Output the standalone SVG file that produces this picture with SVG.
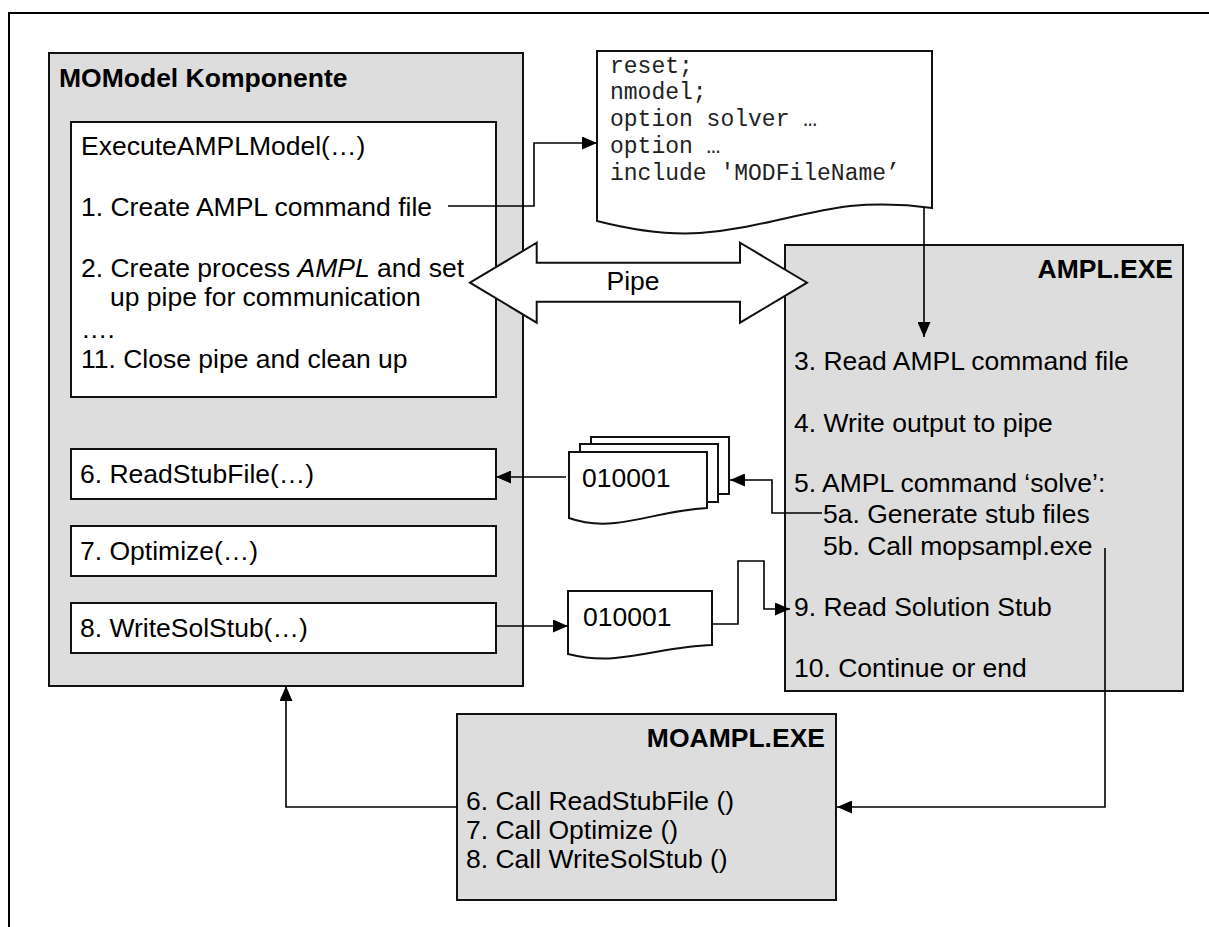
<svg xmlns="http://www.w3.org/2000/svg" width="1209" height="927" viewBox="0 0 1209 927">
<style>
.frame{fill:none;stroke:#000;stroke-width:2}
.gbox{fill:#dddddd;stroke:#111;stroke-width:2}
.wbox{fill:#fff;stroke:#111;stroke-width:2}
.t{font-family:"Liberation Sans",Arial,sans-serif;font-size:26.5px;fill:#000}
.b{font-family:"Liberation Sans",Arial,sans-serif;font-size:26.5px;font-weight:bold;fill:#000}
.m{font-family:"Liberation Mono","Courier New",monospace;font-size:23px;fill:#222}
.c{fill:none;stroke:#000;stroke-width:1.6}
</style>
<defs>
<marker id="ah" markerWidth="15" markerHeight="13" refX="15" refY="6.5" orient="auto" markerUnits="userSpaceOnUse">
<path d="M0,0 L15,6.5 L0,13 Z" fill="#000"/>
</marker>
</defs>
<rect width="1209" height="927" fill="#fff"/>
<path class="frame" d="M9,927 V13 H1209"/>

<g id="momodel">
<rect class="gbox" x="49" y="53" width="474" height="633"/>
<text class="b" x="59" y="87">MOModel Komponente</text>
<g id="execute">
<rect class="wbox" x="71" y="122" width="425" height="275"/>
<text class="t" x="81" y="155">ExecuteAMPLModel(…)</text>
<text class="t" x="81" y="216">1. Create AMPL command file</text>
<text class="t" x="81" y="277">2. Create process <tspan font-style="italic">AMPL</tspan> and set</text>
<text class="t" x="110" y="306">up pipe for communication</text>
<text class="t" x="81" y="338">….</text>
<text class="t" x="81" y="368">11. Close pipe and clean up</text>
</g>
<g id="readstub">
<rect class="wbox" x="71" y="449" width="425" height="50"/>
<text class="t" x="80" y="483">6. ReadStubFile(…)</text>
</g>
<g id="optimize">
<rect class="wbox" x="71" y="526" width="425" height="50"/>
<text class="t" x="80" y="560">7. Optimize(…)</text>
</g>
<g id="writesol">
<rect class="wbox" x="71" y="603" width="425" height="50"/>
<text class="t" x="80" y="637">8. WriteSolStub(…)</text>
</g>
</g>

<g id="cmdfile">
<path class="wbox" d="M597,51 H932 V208 C910,205 885,203 850,206 C800,212 760,228 700,233 C670,235 640,232 597,221 Z"/>
<text class="m" x="610" y="73">reset;</text>
<text class="m" x="610" y="99">nmodel;</text>
<text class="m" x="610" y="126">option solver …</text>
<text class="m" x="610" y="153">option …</text>
<text class="m" x="610" y="180">include 'MODFileName’</text>
</g>

<g id="ampl">
<rect class="gbox" x="785" y="245" width="398" height="446"/>
<text class="b" x="1173" y="278" text-anchor="end">AMPL.EXE</text>
<text class="t" x="794" y="370">3. Read AMPL command file</text>
<text class="t" x="794" y="432">4. Write output to pipe</text>
<text class="t" x="794" y="492">5. AMPL command ‘solve’:</text>
<text class="t" x="823" y="523">5a. Generate stub files</text>
<text class="t" x="823" y="555">5b. Call mopsampl.exe</text>
<text class="t" x="794" y="616">9. Read Solution Stub</text>
<text class="t" x="794" y="677">10. Continue or end</text>
</g>

<g id="stubfiles">
<rect class="wbox" x="591" y="437" width="138" height="57"/>
<rect class="wbox" x="580" y="444" width="138" height="58"/>
<path class="wbox" d="M569,452 H707 V508 C670,510 645,520 615,523 C595,525 580,522 569,518 Z"/>
<text class="t" x="582" y="487">010001</text>
</g>

<g id="solstub">
<path class="wbox" d="M568,591 H712 V645 C675,646 650,655 615,658 C595,660 580,657 568,654 Z"/>
<text class="t" x="583" y="626">010001</text>
</g>

<g id="moampl">
<rect class="gbox" x="457" y="714" width="379" height="186"/>
<text class="b" x="825" y="747" text-anchor="end">MOAMPL.EXE</text>
<text class="t" x="466" y="810">6. Call ReadStubFile ()</text>
<text class="t" x="466" y="839">7. Call Optimize ()</text>
<text class="t" x="466" y="868">8. Call WriteSolStub ()</text>
</g>

<g id="pipe">
<polygon class="wbox" points="470,282.7 536.7,242.7 536.7,262.7 740,262.7 740,242.7 807,282.7 740,322.7 740,301.7 536.7,301.7 536.7,322.7"/>
<text class="t" x="633" y="290" text-anchor="middle">Pipe</text>
</g>

<g id="connectors">
<path class="c" d="M448,206 H534 V143 H597" marker-end="url(#ah)"/>
<path class="c" d="M924,208 V337" marker-end="url(#ah)"/>
<path class="c" d="M566,477 H496" marker-end="url(#ah)"/>
<path class="c" d="M822,513 H772 V480 H730" marker-end="url(#ah)"/>
<path class="c" d="M496,626 H568" marker-end="url(#ah)"/>
<path class="c" d="M712,624 H738 V561 H764 V609 H790" marker-end="url(#ah)"/>
<path class="c" d="M1105,548 V807 H837" marker-end="url(#ah)"/>
<path class="c" d="M457,807 H286 V686" marker-end="url(#ah)"/>
</g>
</svg>
